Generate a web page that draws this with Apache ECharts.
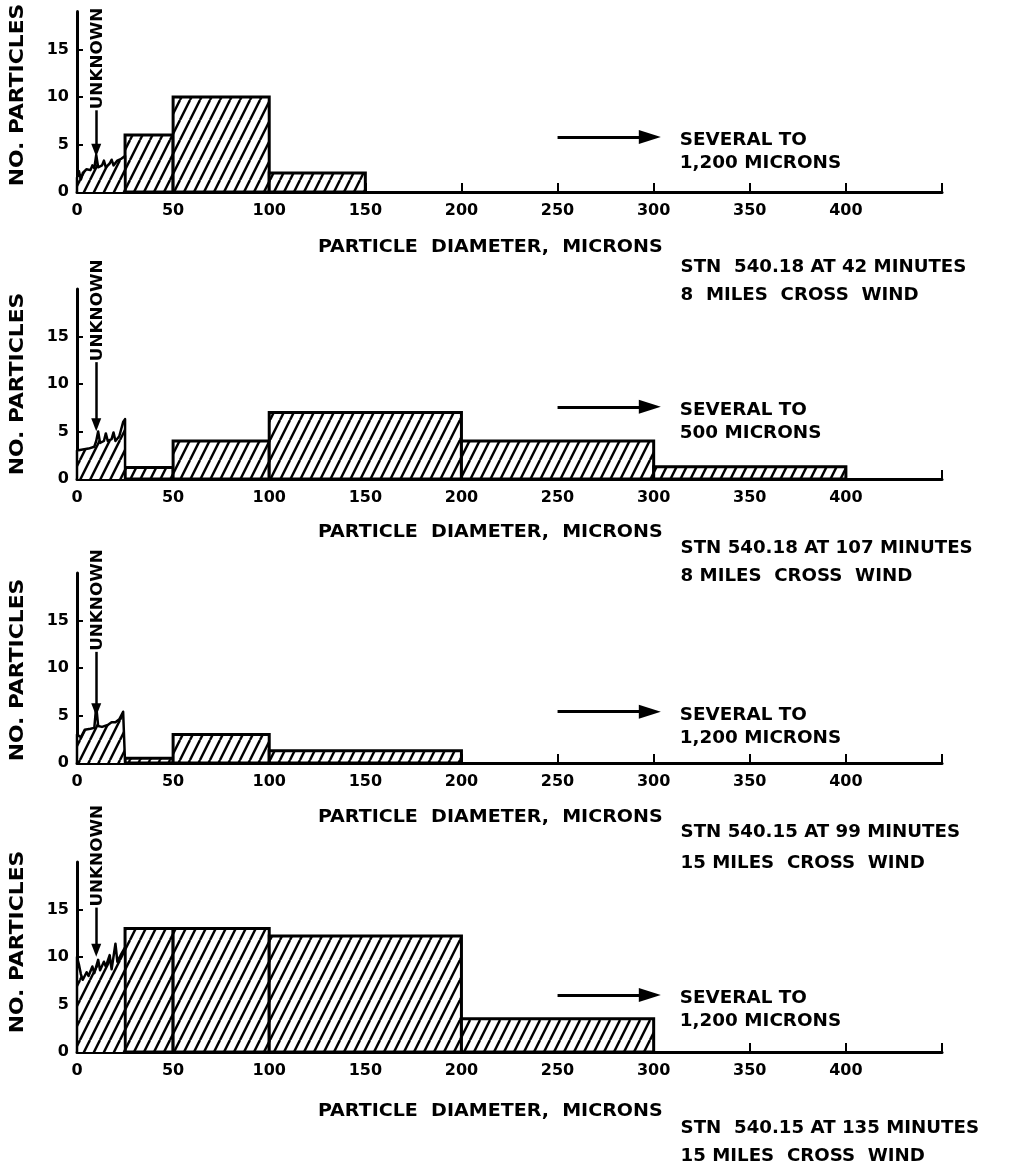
<!DOCTYPE html>
<html><head><meta charset="utf-8">
<script src="https://cdn.jsdelivr.net/npm/echarts@6/dist/echarts.min.js"></script>
<style>html,body{margin:0;padding:0;background:#fff}#c{width:1010px;height:1169px}</style>
</head><body><div id="c"></div>
<script>
// ---------------- DATA ----------------
const xTickLabels = [0, 50, 100, 150, 200, 250, 300, 350, 400];
const xTickMarks = [50, 100, 150, 200, 250, 300, 350, 400, 450];
const yTickLabels = [0, 5, 10, 15];
const yTickMarks = [5, 10, 15];

// histogram bins: [from micron, to micron, no. particles]
const bins1 = [[25, 50, 6], [50, 100, 10], [100, 150, 2]];
const bins2 = [[25, 50, 1.2], [50, 100, 4], [100, 200, 7], [200, 300, 4], [300, 400, 1.3]];
const bins3 = [[25, 50, 0.5], [50, 100, 3], [100, 200, 1.3]];
const bins4 = [[25, 50, 13], [50, 100, 13], [100, 200, 12.2], [200, 300, 3.5]];

// "unknown" region 0-25 microns: [diameter, no. particles]
const unknown1 = [[0,0],[0,1.5],[1,2.2],[2,1.3],[3,2.0],[5,2.4],[7,2.3],[8,2.8],[9,2.5],[10,3.9],[11,2.6],[13,2.8],[14,3.3],[15,2.6],[17,3.0],[18,3.4],[19,2.8],[21,3.3],[23,3.5],[25,3.8],[25,0]];
const unknown2 = [[0,0],[0,3.0],[3,3.1],[6,3.2],[9,3.4],[10,4.0],[11,5.0],[12,3.8],[14,4.0],[15,4.8],[16,4.0],[18,4.2],[19,4.9],[20,4.0],[22,4.5],[24,6.0],[25,6.3],[25,0]];
const unknown3 = [[0,0],[0,3.0],[2,2.7],[4,3.5],[7,3.6],[9,3.7],[10,6.0],[11,3.9],[13,3.8],[16,4.0],[18,4.3],[20,4.3],[22,4.6],[24,5.4],[25,5.6],[25,0]];
const unknown4 = [[0,0],[0,10.0],[1,9.2],[2,8.2],[3,7.6],[5,8.4],[6,8.0],[8,9.0],[9,8.3],[11,9.7],[12,8.6],[14,9.5],[15,9.0],[17,10.2],[18,8.7],[20,11.4],[21,9.5],[23,10.3],[25,11.0],[25,0]];

// arrow "UNKNOWN": [x, top y, tip y]
const unkArrow1 = [10, 8.6, 4.4];
const unkArrow2 = [10, 12.3, 5.7];
const unkArrow3 = [10, 11.7, 5.6];
const unkArrow4 = [10, 15.2, 10.7];

// "several to" arrows: [x from, x to, y]
const bigArrow1 = [250, 298, 5.8];
const bigArrow2 = [250, 298, 7.6];
const bigArrow3 = [250, 298, 5.4];
const bigArrow4 = [250, 298, 6.0];

const severalText1 = ["SEVERAL TO", "1,200 MICRONS"];
const severalText2 = ["SEVERAL TO", "500 MICRONS"];
const severalText3 = ["SEVERAL TO", "1,200 MICRONS"];
const severalText4 = ["SEVERAL TO", "1,200 MICRONS"];

const stationText1 = ["STN  540.18 AT 42 MINUTES", "8  MILES  CROSS  WIND"];
const stationText2 = ["STN 540.18 AT 107 MINUTES", "8 MILES  CROSS  WIND"];
const stationText3 = ["STN 540.15 AT 99 MINUTES", "15 MILES  CROSS  WIND"];
const stationText4 = ["STN  540.15 AT 135 MINUTES", "15 MILES  CROSS  WIND"];

const xName = "PARTICLE  DIAMETER,  MICRONS";
const yName = "NO. PARTICLES";
const unknownLabel = "UNKNOWN";
const yMaxes = [19, 20, 20, 20];

// ---------------- LAYOUT / STYLE ----------------
const FONT = "DejaVu Sans";
const baselines = [192, 479, 763, 1052];
const pxPerUnit = 9.5;
const gridLeft = 77, gridWidth = 865;
const xNameOffsets = [56, 54, 55, 60];
const yNameOffsets = [97, 95, 93, 110];
const stationOffsets = [[76, 104], [70, 98], [70, 101], [77, 105]];

const panels = [
  {bins: bins1, unk: unknown1, ua: unkArrow1, ba: bigArrow1, st: severalText1, stn: stationText1},
  {bins: bins2, unk: unknown2, ua: unkArrow2, ba: bigArrow2, st: severalText2, stn: stationText2},
  {bins: bins3, unk: unknown3, ua: unkArrow3, ba: bigArrow3, st: severalText3, stn: stationText3},
  {bins: bins4, unk: unknown4, ua: unkArrow4, ba: bigArrow4, st: severalText4, stn: stationText4}
];

function makeHatch() {
  const W = 10, H = 20;
  const c = document.createElement('canvas'); c.width = W; c.height = H;
  const g = c.getContext('2d');
  g.fillStyle = '#fff'; g.fillRect(0, 0, W, H);
  g.strokeStyle = '#000'; g.lineWidth = 2.5;
  for (const o of [-W, 0, W]) { g.beginPath(); g.moveTo(o, H); g.lineTo(o + W, 0); g.stroke(); }
  return c;
}
const hatch = {image: makeHatch(), repeat: 'repeat'};

const chart = echarts.init(document.getElementById('c'), null, {renderer: 'canvas'});

const grids = [], xAxes = [], yAxes = [], series = [];
panels.forEach((p, i) => {
  const h = yMaxes[i] * pxPerUnit;
  grids.push({left: gridLeft, width: gridWidth, top: baselines[i] - h, height: h, containLabel: false});
  xAxes.push({
    type: 'value', gridIndex: i, min: 0, max: 450, interval: 50,
    axisLine: {show: true, onZero: false, lineStyle: {color: '#000', width: 3}},
    axisTick: {show: true, inside: true, length: 9, lineStyle: {color: '#000', width: 2}, customValues: xTickMarks},
    axisLabel: {fontFamily: FONT, fontWeight: 'bold', fontSize: 16, color: '#000', margin: 11, customValues: xTickLabels},
    splitLine: {show: false}
  });
  yAxes.push({
    type: 'value', gridIndex: i, min: 0, max: yMaxes[i], interval: 5,
    axisLine: {show: true, lineStyle: {color: '#000', width: 3}},
    axisTick: {show: true, inside: true, length: 6, lineStyle: {color: '#000', width: 2}, customValues: yTickMarks},
    axisLabel: {fontFamily: FONT, fontWeight: 'bold', fontSize: 16, color: '#000', margin: 8, customValues: yTickLabels},
    splitLine: {show: false}
  });
  series.push({
    type: 'custom', xAxisIndex: i, yAxisIndex: i, data: p.bins, encode: {x: [0, 1], y: 2}, z: 2,
    renderItem: function (params, api) {
      const a = api.coord([api.value(0), api.value(2)]);
      const b = api.coord([api.value(1), 0]);
      return {type: 'rect', shape: {x: a[0], y: a[1], width: b[0] - a[0], height: b[1] - a[1]},
        style: {fill: hatch, stroke: '#000', lineWidth: 3}};
    }
  });
  series.push({
    type: 'line', xAxisIndex: i, yAxisIndex: i, data: p.unk, symbol: 'none', z: 3,
    lineStyle: {color: '#000', width: 2.5, join: 'round'},
    areaStyle: {color: hatch, opacity: 1},
    markLine: {
      silent: true, symbol: ['none', 'triangle'],
      label: {show: false}, lineStyle: {color: '#000', width: 3, type: 'solid'},
      data: [
        [{coord: [p.ba[0], p.ba[2]], symbolSize: 0}, {coord: [p.ba[1], p.ba[2]], symbolSize: [14, 22]}],
        [{coord: [p.ua[0], p.ua[1]], symbolSize: 0, lineStyle: {width: 2.5}}, {coord: [p.ua[0], p.ua[2]], symbolSize: [10, 13]}]
      ]
    }
  });
});

chart.setOption({
  backgroundColor: '#fff',
  animation: false,
  grid: grids, xAxis: xAxes, yAxis: yAxes, series: series
});

// text annotations placed through the axes
const graphics = [];
const tStyle = (txt, size, extra) => Object.assign({text: txt, fill: '#000', font: 'bold ' + size + 'px "' + FONT + '"'}, extra || {});
panels.forEach((p, i) => {
  const ua = chart.convertToPixel({gridIndex: i}, [p.ua[0], p.ua[1]]);
  graphics.push({type: 'text', x: ua[0] + 2, y: ua[1] - 1, rotation: Math.PI / 2, scaleX: 1.05,
    style: tStyle(unknownLabel, 16, {align: 'left', verticalAlign: 'middle'})});
  const ba = chart.convertToPixel({gridIndex: i}, [p.ba[1], p.ba[2]]);
  graphics.push({type: 'text', x: ba[0] + 30, y: ba[1] + 4, scaleX: 1.08, style: tStyle(p.st[0], 17, {verticalAlign: 'middle'})});
  graphics.push({type: 'text', x: ba[0] + 30, y: ba[1] + 27, scaleX: 1.08, style: tStyle(p.st[1], 17, {verticalAlign: 'middle'})});
  const o = chart.convertToPixel({gridIndex: i}, [314, 0]);
  graphics.push({type: 'text', x: o[0], y: o[1] + stationOffsets[i][0], scaleX: 1.07, style: tStyle(p.stn[0], 17, {verticalAlign: 'middle'})});
  graphics.push({type: 'text', x: o[0], y: o[1] + stationOffsets[i][1], scaleX: 1.07, style: tStyle(p.stn[1], 17, {verticalAlign: 'middle'})});
  const c = chart.convertToPixel({gridIndex: i}, [215, 0]);
  graphics.push({type: 'text', x: c[0], y: c[1] + xNameOffsets[i], scaleX: 1.12,
    style: tStyle(xName, 17, {align: 'center', verticalAlign: 'middle'})});
  const yn = chart.convertToPixel({gridIndex: i}, [0, 0]);
  graphics.push({type: 'text', x: yn[0] - 59, y: yn[1] - yNameOffsets[i], rotation: Math.PI / 2, scaleX: 1.15,
    style: tStyle(yName, 19, {align: 'center', verticalAlign: 'middle'})});
});
chart.setOption({graphic: graphics});
</script>
</body></html>
